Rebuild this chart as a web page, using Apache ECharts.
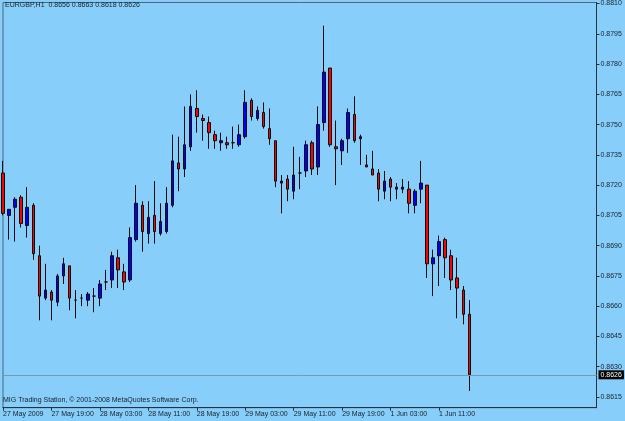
<!DOCTYPE html>
<html>
<head>
<meta charset="utf-8">
<script src="https://cdn.jsdelivr.net/npm/echarts@6/dist/echarts.min.js"></script>
<style>
html,body{margin:0;padding:0;background:#87CEFA;}
#chart{width:625px;height:421px;}
</style>
</head>
<body>
<div id="chart"></div>
<script>
// ---- Data (EURGBP, H1) ----
const times = [
 '27 May 11:00','27 May 12:00','27 May 13:00','27 May 14:00','27 May 15:00','27 May 16:00','27 May 17:00','27 May 18:00','27 May 19:00','27 May 20:00','27 May 21:00','27 May 22:00','27 May 23:00',
 '28 May 00:00','28 May 01:00','28 May 02:00','28 May 03:00','28 May 04:00','28 May 05:00','28 May 06:00','28 May 07:00','28 May 08:00','28 May 09:00','28 May 10:00','28 May 11:00',
 '28 May 12:00','28 May 13:00','28 May 14:00','28 May 15:00','28 May 16:00','28 May 17:00','28 May 18:00','28 May 19:00','28 May 20:00','28 May 21:00','28 May 22:00','28 May 23:00',
 '29 May 00:00','29 May 01:00','29 May 02:00','29 May 03:00','29 May 04:00','29 May 05:00','29 May 06:00','29 May 07:00','29 May 08:00','29 May 09:00','29 May 10:00','29 May 11:00',
 '29 May 12:00','29 May 13:00','29 May 14:00','29 May 15:00','29 May 16:00','29 May 17:00','29 May 18:00','29 May 19:00','29 May 20:00','29 May 21:00','29 May 22:00','29 May 23:00',
 '1 Jun 00:00','1 Jun 01:00','1 Jun 02:00','1 Jun 03:00','1 Jun 04:00','1 Jun 05:00','1 Jun 06:00','1 Jun 07:00','1 Jun 08:00','1 Jun 09:00','1 Jun 10:00','1 Jun 11:00',
 '1 Jun 12:00','1 Jun 13:00','1 Jun 14:00','1 Jun 15:00','1 Jun 16:00'
];
const opens = [
 0.8726,0.8705,0.8709,0.8714,0.8700,0.8710,0.8685,0.8664,0.8667,0.8662,
 0.8675,0.8680,0.8663,0.8664,0.8663,0.8665,0.8664,0.8672,0.8673,0.8684,
 0.8677,0.8673,0.8693,0.8710,0.8696,0.8705,0.8696,0.8697,0.8710,0.8731,
 0.8728,0.8739,0.8758,0.8753,0.8751,0.8745,0.8741,0.8741,0.8741,0.8740,
 0.8744,0.8762,0.8753,0.8756,0.8748,0.8742,0.8721,0.8723,0.8717,0.8726,
 0.8727,0.8741,0.8729,0.8751,0.8778,0.8739,0.8737,0.8743,0.8755,0.8743,
 0.8730,0.8728,0.8726,0.8717,0.8723,0.8718,0.8718,0.8718,0.8710,0.8718,
 0.8720,0.8681,0.8685,0.8693,0.8685,0.8674,0.8668,0.8656
];
const closes = [
 0.8706,0.8708,0.8713,0.8701,0.8709,0.8686,0.8665,0.8668,0.8663,0.8675,
 0.8681,0.8664,0.8663,0.8664,0.8666,0.8665,0.8671,0.8672,0.8685,0.8678,
 0.8672,0.8694,0.8711,0.8697,0.8704,0.8697,0.8702,0.8711,0.8732,0.8728,
 0.8740,0.8759,0.8754,0.8752,0.8746,0.8742,0.8742,0.8740,0.8741,0.8745,
 0.8761,0.8754,0.8757,0.8749,0.8743,0.8722,0.8722,0.8718,0.8725,0.8726,
 0.8740,0.8728,0.8750,0.8776,0.8740,0.8738,0.8742,0.8756,0.8742,0.8744,
 0.8729,0.8725,0.8718,0.8722,0.8719,0.8719,0.8719,0.8711,0.8717,0.8721,
 0.8681,0.8684,0.8692,0.8684,0.8673,0.8669,0.8656,0.8626
];
const lows = [
 0.8705,0.8693,0.8692,0.8699,0.8694,0.8683,0.8653,0.8663,0.8653,0.8660,
 0.8671,0.8658,0.8654,0.8660,0.8660,0.8657,0.8660,0.8668,0.8669,0.8669,
 0.8668,0.8672,0.8692,0.8687,0.8691,0.8691,0.8695,0.8696,0.8709,0.8717,
 0.8724,0.8737,0.8746,0.8742,0.8738,0.8738,0.8737,0.8738,0.8738,0.8739,
 0.8743,0.8752,0.8752,0.8748,0.8740,0.8719,0.8706,0.8712,0.8713,0.8718,
 0.8724,0.8725,0.8725,0.8747,0.8739,0.8720,0.8730,0.8736,0.8741,0.8730,
 0.8729,0.8725,0.8712,0.8713,0.8712,0.8713,0.8716,0.8706,0.8706,0.8711,
 0.8674,0.8665,0.8670,0.8674,0.8668,0.8654,0.8651,0.8618
];
const highs = [
 0.8732,0.8708,0.8714,0.8715,0.8719,0.8711,0.8690,0.8681,0.8668,0.8676,
 0.8684,0.8680,0.8668,0.8666,0.8667,0.8669,0.8673,0.8678,0.8687,0.8688,
 0.8681,0.8699,0.8720,0.8712,0.8712,0.8722,0.8711,0.8719,0.8745,0.8744,
 0.8759,0.8765,0.8767,0.8755,0.8754,0.8747,0.8746,0.8744,0.8749,0.8750,
 0.8767,0.8763,0.8759,0.8761,0.8758,0.8742,0.8725,0.8725,0.8739,0.8734,
 0.8742,0.8742,0.8759,0.8799,0.8778,0.8752,0.8743,0.8758,0.8764,0.8745,
 0.8735,0.8737,0.8728,0.8727,0.8724,0.8721,0.8723,0.8722,0.8718,0.8732,
 0.8720,0.8688,0.8695,0.8694,0.8688,0.8684,0.8670,0.8663
];
const xTickLabels = ['27 May 2009','27 May 19:00','28 May 03:00','28 May 11:00','28 May 19:00','29 May 03:00','29 May 11:00','29 May 19:00','1 Jun 03:00','1 Jun 11:00'];
const yTicks = [0.8615,0.8630,0.8645,0.8660,0.8675,0.8690,0.8705,0.8720,0.8735,0.8750,0.8765,0.8780,0.8795,0.8810];
const symbolName = 'EURGBP,H1';
const footerText = 'MIG Trading Station, \u00A9 2001-2008 MetaQuotes Software Corp.';

// ---- Build ----
const N = times.length;
const LABEL_STEP = 8;
const PAD_SLOTS = 21; // empty space to the right of the last bar
const categories = times.concat(new Array(PAD_SLOTS).fill(''));
const ohlc = times.map((t, i) => [opens[i], closes[i], lows[i], highs[i]]);
const last = N - 1;
const fmt = v => Number(v).toFixed(4);
const header = symbolName + '  ' + [opens[last], highs[last], lows[last], closes[last]].map(fmt).join(' ');
const lastPrice = closes[last];

const FONT = 'Liberation Sans, Arial, sans-serif';
const TXT = '#17212b';
const showIdx = (i) => i % LABEL_STEP === 0 && i < N;

const chart = echarts.init(document.getElementById('chart'), null, {renderer: 'canvas'});
chart.setOption({
  animation: false,
  backgroundColor: '#87CEFA',
  title: [
    {text: header, left: 5, top: 2, padding: 0,
     textStyle: {fontSize: 7, fontWeight: 'normal', color: TXT, fontFamily: FONT}},
    {text: footerText, left: 3, top: 397, padding: 0,
     textStyle: {fontSize: 7, fontWeight: 'normal', color: TXT, fontFamily: FONT}}
  ],
  grid: {left: 2, top: 2, right: 28.5, bottom: 13.3, show: true,
         borderColor: '#4d6679', borderWidth: 1, backgroundColor: 'transparent'},
  xAxis: {
    type: 'category',
    data: categories,
    boundaryGap: false,
    axisLine: {show: true, lineStyle: {color: '#26323d', width: 1}},
    axisTick: {show: true, interval: (i) => showIdx(i), length: 3, inside: false,
               lineStyle: {color: '#26323d'}},
    axisLabel: {show: true, interval: (i) => showIdx(i), align: 'left', margin: 3,
                fontSize: 7, color: TXT, fontFamily: FONT,
                formatter: (v, i) => xTickLabels[i / LABEL_STEP] || ''},
    splitLine: {show: false}
  },
  yAxis: {
    type: 'value',
    position: 'right',
    min: 0.86097,
    max: 0.88105,
    scale: true,
    axisLine: {show: true, lineStyle: {color: '#26323d', width: 1}},
    axisTick: {show: true, customValues: yTicks, length: 3, lineStyle: {color: '#26323d'}},
    axisLabel: {show: true, customValues: yTicks, margin: 4, fontSize: 7, color: TXT,
                fontFamily: FONT, formatter: v => fmt(v)},
    splitLine: {show: false}
  },
  series: [{
    type: 'candlestick',
    data: ohlc,
    barWidth: 3,
    clip: true,
    z: 3,
    itemStyle: {
      color: '#0000ff', color0: '#ff0000',
      borderColor: '#0d0d0d', borderColor0: '#0d0d0d', borderColorDoji: '#0d0d0d',
      borderWidth: 1
    }
  }, {
    type: 'line',
    data: [],
    z: 2,
    markLine: {
      silent: true,
      symbol: ['none', 'none'],
      animation: false,
      lineStyle: {color: '#7c98ae', width: 1, type: 'solid'},
      label: {show: true, position: 'end', distance: 2, formatter: fmt(lastPrice),
              backgroundColor: '#000', color: '#fff', fontSize: 7, fontFamily: FONT,
              padding: [1, 2, 1, 2]},
      data: [[{coord: [0, lastPrice]}, {coord: [categories.length - 1, lastPrice]}]]
    }
  }]
});
</script>
</body>
</html>
